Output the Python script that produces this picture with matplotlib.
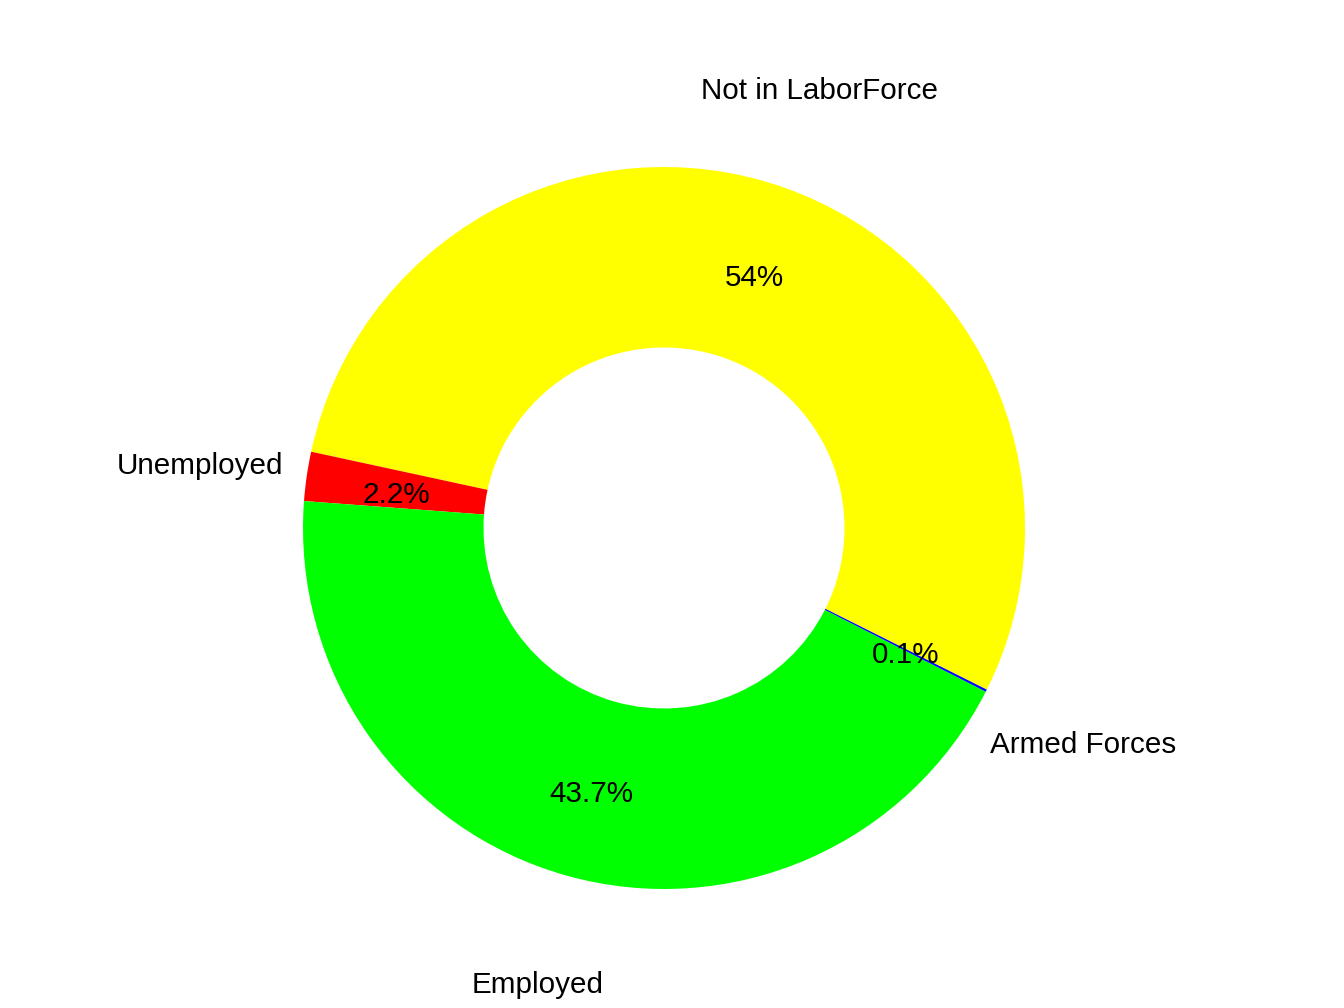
import matplotlib.pyplot as plt

# labor force status shares (percent)
labels = ['Not in LaborForce', 'Unemployed', 'Employed', 'Armed Forces']
shares = [54.0, 2.2, 43.7, 0.1]
pct_text = ['54%', '2.2%', '43.7%', '0.1%']
cols = ['#FFFF00', '#FF0000', '#00FF00', '#0000FF']

plt.rcParams['font.family'] = ['Liberation Sans', 'DejaVu Sans']

W, H = 1344, 1008
cx, cy, R = 664, 528, 361  # pixel centre / radius of the ring

fig = plt.figure(figsize=(W / 100, H / 100), dpi=100)
ax = fig.add_axes([0, 0, 1, 1])

wedges, txt, autotxt = ax.pie(shares, colors=cols, startangle=-26.6, counterclock=True,
                              radius=1, labels=labels, labeldistance=1.3,
                              autopct='%1.1f%%', pctdistance=0.75,
                              wedgeprops=dict(width=0.5, linewidth=0),
                              textprops=dict(fontsize=21.3, color='black'))
for t in txt:
    t.set_horizontalalignment('center')
    t.set_verticalalignment('center')
for t, s in zip(autotxt, pct_text):
    t.set_text(s)
# text sits a few px lower in the original
for t in list(txt) + list(autotxt):
    x, y = t.get_position()
    t.set_position((x, y - 5.5 / R))

ax.set_xlim(-cx / R, (W - cx) / R)
ax.set_ylim(-(H - cy) / R, cy / R)
ax.set_aspect('auto')
ax.axis('off')

fig.savefig('out.png', dpi=100, facecolor='white')
